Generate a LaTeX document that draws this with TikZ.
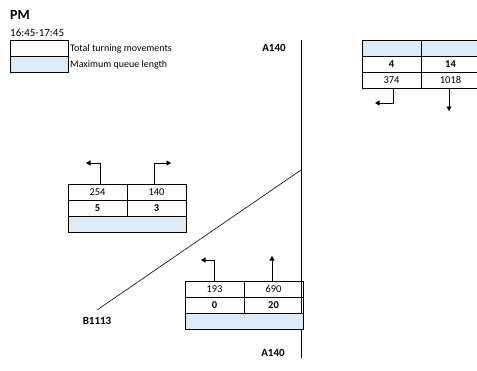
\documentclass[tikz,border=0pt]{standalone}
\usepackage{fontspec}
\setmainfont{Carlito}
\usetikzlibrary{arrows.meta}
\definecolor{qblue}{HTML}{DDEBF7}
\begin{document}
\begin{tikzpicture}[x=1pt,y=-1pt,
  cell/.style={draw=black,line width=0.9pt,minimum width=59pt,minimum height=16pt,inner sep=0pt,font=\fontsize{10.5}{12}\selectfont},
  bcell/.style={cell,font=\fontsize{10.5}{12}\selectfont\bfseries},
  qcell/.style={cell,fill=qblue},
  lbl/.style={font=\fontsize{11}{13}\selectfont\bfseries,inner sep=0pt},
  txt/.style={font=\fontsize{10}{12}\selectfont,inner sep=0pt,anchor=west},
  road/.style={line width=0.9pt},
  diag/.style={line width=0.6pt},
  arr/.style={line width=0.7pt,-{Triangle[length=4.5pt,width=5pt]}}]
\useasboundingbox (0,0) rectangle (477,370);
% title and legend
\node[font=\fontsize{14}{16}\selectfont\bfseries,inner sep=0pt,anchor=west] (pm) at (10,15) {PM};
\node[font=\fontsize{11}{13}\selectfont,inner sep=0pt,anchor=west] (time) at (10,33) {16:45-17:45};
\node[cell,anchor=north west,minimum width=58pt] (leg1) at (10,40) {};
\node[qcell,anchor=north west,minimum width=58pt] (leg2) at (10,56) {};
\node[txt] (leg1t) at (70,48.5) {Total turning movements};
\node[txt] (leg2t) at (70,64.5) {Maximum queue length};
% roads
\coordinate (vt) at (301,40);
\coordinate (vb) at (301,358);
\coordinate (dt) at (301,170);
\coordinate (db) at (97,310);
\draw[road] (vt) -- (vb);
\draw[diag] (dt) -- (db);
\node[lbl] (a140t) at (274,48) {A140};
\node[lbl] (a140b) at (273,353) {A140};
\node[lbl] (b1113) at (97,321) {B1113};
% top right table
\node[qcell] (tq1) at (391.5,48) {};
\node[qcell] (tq2) at (450.5,48) {};
\node[bcell] (tb1) at (391.5,64) {4};
\node[bcell] (tb2) at (450.5,64) {14};
\node[cell] (tn1) at (391.5,80) {374};
\node[cell] (tn2) at (450.5,80) {1018};
\coordinate (ta1s) at (393,88);
\coordinate (ta1e) at (375,103);
\coordinate (ta2s) at (449,88);
\coordinate (ta2e) at (449,111);
\draw[arr] (ta1s) |- (ta1e);
\draw[arr] (ta2s) -- (ta2e);
% middle left table
\node[cell] (mn1) at (97.5,192) {254};
\node[cell] (mn2) at (156.5,192) {140};
\node[bcell] (mb1) at (97.5,208) {5};
\node[bcell] (mb2) at (156.5,208) {3};
\node[qcell,minimum width=118pt] (mq) at (127,224) {};
\coordinate (ma1s) at (100,184);
\coordinate (ma1e) at (86,163);
\coordinate (ma2s) at (154,184);
\coordinate (ma2e) at (171,163);
\draw[arr] (ma1s) |- (ma1e);
\draw[arr] (ma2s) |- (ma2e);
% bottom table
\node[cell] (bn1) at (214.5,289) {193};
\node[cell] (bn2) at (273.5,289) {690};
\node[bcell] (bb1) at (214.5,305) {0};
\node[bcell] (bb2) at (273.5,305) {20};
\node[qcell,minimum width=118pt] (bq) at (244,321) {};
\coordinate (ba1s) at (214,281);
\coordinate (ba1e) at (201,260);
\coordinate (ba2s) at (272,281);
\coordinate (ba2e) at (272,256);
\draw[arr] (ba1s) |- (ba1e);
\draw[arr] (ba2s) -- (ba2e);
\end{tikzpicture}
\end{document}
